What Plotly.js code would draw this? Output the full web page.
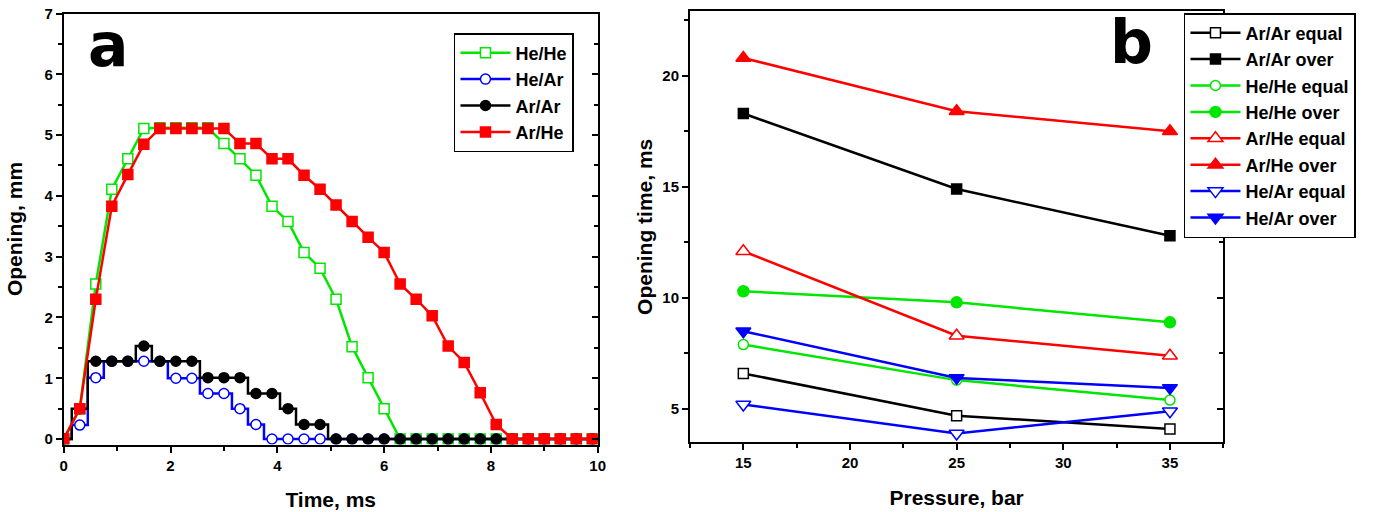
<!DOCTYPE html>
<html>
<head>
<meta charset="utf-8">
<script src="https://cdn.plot.ly/plotly-3.0.1.min.js"></script>
<style>html,body{margin:0;padding:0;background:#fff}#chart{width:1374px;height:512px}</style>
</head>
<body>
<div id="chart"></div>
<script>
// ---------- Panel a: opening vs time ----------
const timeMs = [0,0.3,0.6,0.9,1.2,1.5,1.8,2.1,2.4,2.7,3.0,3.3,3.6,3.9,4.2,4.5,4.8,5.1,5.4,5.7,6.0,6.3,6.6,6.9,7.2,7.5,7.8,8.1,8.4,8.7,9.0,9.3,9.6,9.9];
const heHe = [0,0.5,2.55,4.11,4.61,5.11,5.12,5.12,5.12,5.12,4.86,4.61,4.34,3.83,3.58,3.07,2.81,2.3,1.52,1.01,0.5,0,0,0,0,0,0,0,0,0,0,0,0,0];
const heAr = [0,0.23,1.01,1.28,1.28,1.28,1.28,1.0,1.0,0.75,0.75,0.5,0.24,0,0,0,0,0,0,0,0,0,0,0,0,0,0,0,0,0,0,0,0,0];
const arAr = [0,0.5,1.28,1.28,1.28,1.53,1.28,1.28,1.28,1.01,1.01,1.01,0.75,0.75,0.5,0.24,0.24,0,0,0,0,0,0,0,0,0,0,0,0,0,0,0,0,0];
const arHe = [0,0.5,2.3,3.83,4.35,4.85,5.11,5.11,5.11,5.11,5.11,4.86,4.86,4.61,4.61,4.34,4.11,3.85,3.58,3.32,3.07,2.55,2.3,2.03,1.53,1.26,0.76,0.24,0,0,0,0,0,0];

// ---------- Panel b: opening time vs pressure ----------
const pressureBar = [15,25,35];
const arArEqual = [6.6,4.7,4.1];
const arArOver  = [18.3,14.9,12.8];
const heHeEqual = [7.9,6.3,5.4];
const heHeOver  = [10.3,9.8,8.9];
const arHeEqual = [12.1,8.3,7.4];
const arHeOver  = [20.8,18.4,17.5];
const heArEqual = [5.2,3.9,4.9];
const heArOver  = [8.5,6.4,5.95];

const GREEN = '#00e600', BLUE = '#0000ff', RED = '#ff0000', BLACK = '#000000';
const FONT = 'Liberation Sans, Arial, sans-serif';

function aTrace(name, y, color, symbol, open, shape) {
  return {
    x: timeMs, y: y, name: name, type: 'scatter', mode: 'lines+markers',
    xaxis: 'x', yaxis: 'y', legend: 'legend',
    line: {color: color, width: 2.5, shape: shape},
    marker: {symbol: symbol, size: 10, color: open ? '#ffffff' : color,
             line: {color: color, width: 1.5}}
  };
}
function bTrace(name, y, color, symbol, open, size) {
  return {
    x: pressureBar, y: y, name: name, type: 'scatter', mode: 'lines+markers',
    xaxis: 'x2', yaxis: 'y2', legend: 'legend2',
    line: {color: color, width: 2.5},
    marker: {symbol: symbol, size: size, color: open ? '#ffffff' : color,
             line: {color: color, width: 1.5}}
  };
}
// empty helper traces so the right-hand (inward-tick) axes get drawn
function axisHolder(xa, ya) {
  return {x: [], y: [], type: 'scatter', mode: 'markers', xaxis: xa, yaxis: ya,
          showlegend: false, hoverinfo: 'skip'};
}

const data = [
  axisHolder('x', 'y3'),
  axisHolder('x2', 'y4'),
  aTrace('He/He', heHe, GREEN, 'square', true, 'linear'),
  aTrace('He/Ar', heAr, BLUE, 'circle', true, 'hvh'),
  aTrace('Ar/Ar', arAr, BLACK, 'circle', false, 'hvh'),
  aTrace('Ar/He', arHe, RED, 'square', false, 'linear'),
  bTrace('Ar/Ar equal', arArEqual, BLACK, 'square', true, 10),
  bTrace('Ar/Ar over', arArOver, BLACK, 'square', false, 10),
  bTrace('He/He equal', heHeEqual, GREEN, 'circle', true, 10),
  bTrace('He/He over', heHeOver, GREEN, 'circle', false, 11),
  bTrace('Ar/He equal', arHeEqual, RED, 'triangle-up', true, 13),
  bTrace('Ar/He over', arHeOver, RED, 'triangle-up', false, 13),
  bTrace('He/Ar equal', heArEqual, BLUE, 'triangle-down', true, 13),
  bTrace('He/Ar over', heArOver, BLUE, 'triangle-down', false, 13)
];

const tickFont = {family: FONT, size: 15, color: '#000', weight: 'bold'};
const titleFont = {family: FONT, size: 21, color: '#000', weight: 'bold'};
const legFont = {family: FONT, size: 18, color: '#000', weight: 'bold'};
const axBase = {showgrid: false, zeroline: false, showline: true, linecolor: '#000', linewidth: 2,
  ticks: 'outside', ticklen: 6, tickwidth: 2, tickcolor: '#000', tickfont: tickFont, automargin: false};

const layout = {
  width: 1374, height: 512,
  margin: {l: 0, r: 0, t: 0, b: 0},
  paper_bgcolor: '#fff', plot_bgcolor: '#fff',
  showlegend: true,
  xaxis: Object.assign({}, axBase, {domain: [0.0464, 0.435], range: [0, 10], dtick: 2, tick0: 0,
    minor: {dtick: 1, ticks: 'outside', ticklen: 4, tickwidth: 2, tickcolor: '#000'},
    mirror: true, anchor: 'y',
    title: {text: 'Time, ms', font: titleFont, standoff: 20}}),
  yaxis: Object.assign({}, axBase, {domain: [0.1318, 0.9736], range: [-0.09, 7], dtick: 1, tick0: 0,
    minor: {dtick: 0.5, ticks: 'outside', ticklen: 4, tickwidth: 2, tickcolor: '#000'},
    mirror: true, anchor: 'x',
    title: {text: 'Opening, mm', font: titleFont, standoff: 16}}),
  yaxis3: Object.assign({}, axBase, {overlaying: 'y', side: 'right', anchor: 'x', range: [-0.09, 7],
    dtick: 1, tick0: 0, ticks: 'inside', showticklabels: false, showline: false,
    minor: {dtick: 0.5, ticks: 'inside', ticklen: 4, tickwidth: 2, tickcolor: '#000'}}),
  xaxis2: Object.assign({}, axBase, {domain: [0.5022, 0.8903], range: [12.5, 37.5], dtick: 5, tick0: 15,
    minor: {dtick: 2.5, ticks: 'outside', ticklen: 4, tickwidth: 2, tickcolor: '#000'},
    mirror: true, anchor: 'y2',
    title: {text: 'Pressure, bar', font: titleFont, standoff: 20}}),
  yaxis2: Object.assign({}, axBase, {domain: [0.1361, 0.9779], range: [3.5, 22.9], dtick: 5, tick0: 0,
    minor: {dtick: 2.5, ticks: 'outside', ticklen: 4, tickwidth: 2, tickcolor: '#000'},
    mirror: true, anchor: 'x2',
    title: {text: 'Opening time, ms', font: titleFont, standoff: 4}}),
  yaxis4: Object.assign({}, axBase, {overlaying: 'y2', side: 'right', anchor: 'x2', range: [3.5, 22.9],
    dtick: 5, tick0: 0, ticks: 'inside', showticklabels: false, showline: false,
    minor: {dtick: 2.5, ticks: 'inside', ticklen: 4, tickwidth: 2, tickcolor: '#000'}}),
  legend: {x: 0.3304, y: 0.9355, xanchor: 'left', yanchor: 'top', bgcolor: '#fff', itemwidth: 50,
    bordercolor: '#000', borderwidth: 1.5, font: legFont},
  legend2: {x: 0.8617, y: 0.9746, xanchor: 'left', yanchor: 'top', bgcolor: '#fff', itemwidth: 50,
    bordercolor: '#000', borderwidth: 1.5, font: legFont},
  annotations: [
    {text: 'a', xref: 'paper', yref: 'paper', x: 108 / 1374, y: 1 - 8 / 512, xanchor: 'center', yanchor: 'top',
     showarrow: false, font: {family: 'DejaVu Sans, sans-serif', size: 60, color: '#000', weight: 'bold'}},
    {text: 'b', xref: 'paper', yref: 'paper', x: 1131 / 1374, y: 1 - 5 / 512, xanchor: 'center', yanchor: 'top',
     showarrow: false, font: {family: 'DejaVu Sans, sans-serif', size: 60, color: '#000', weight: 'bold'}}
  ]
};

Plotly.newPlot('chart', data, layout, {displayModeBar: false, staticPlot: true});
</script>
</body>
</html>
